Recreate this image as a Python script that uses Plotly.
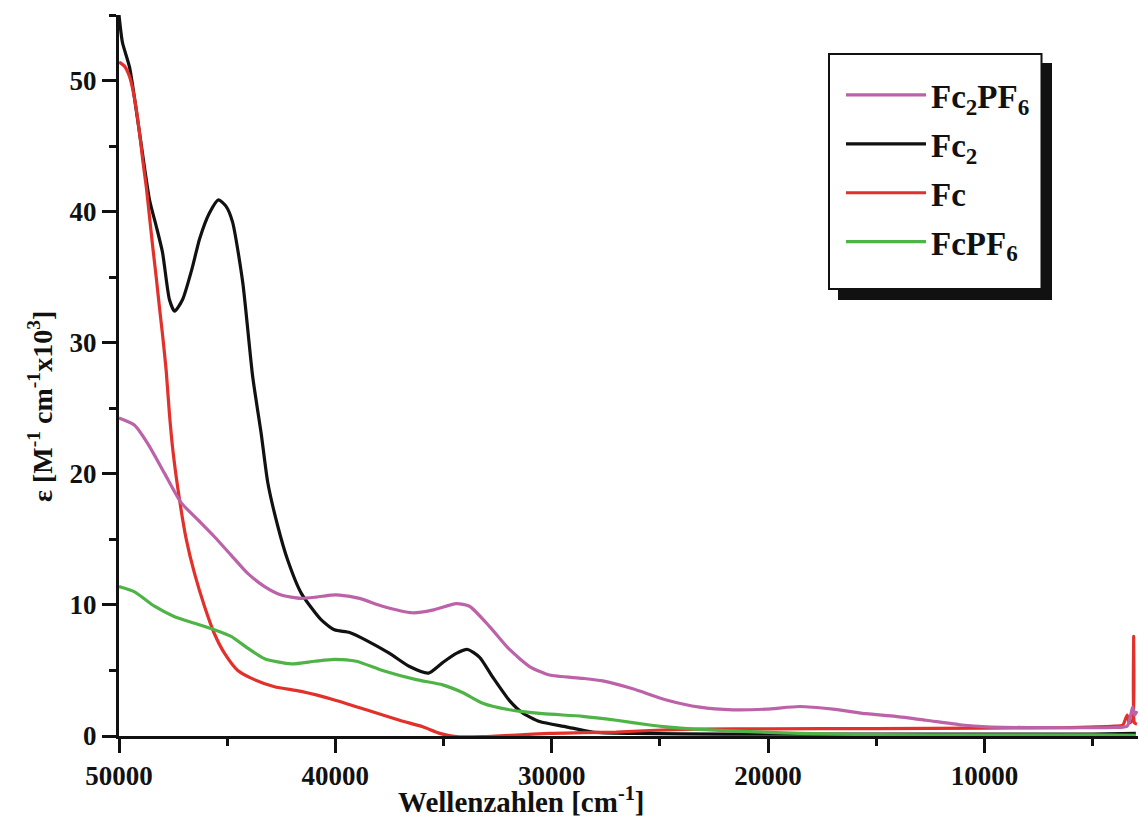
import plotly.graph_objects as go

# ---------------- data ----------------
fc2_x = [50000, 49840, 49510, 49050, 48590, 48280, 47990, 47670, 47430, 47060, 46600, 46280,
         45820, 45400, 45050, 44750, 44280, 43820, 43430, 43120, 42660, 42200, 41580, 40650,
         40040, 39340, 38570, 37490, 36570, 35690, 35040, 34410, 33890, 33330, 32730, 31950,
         31340, 30560, 29330, 28110, 26250, 22000, 15000, 10000, 5000, 3000]
fc2_y = [55.0, 52.9, 51.0, 46.0, 40.9, 38.9, 36.9, 33.3, 32.4, 33.3, 35.8, 37.9,
         39.9, 40.9, 40.4, 39.2, 34.6, 27.4, 23.1, 19.3, 16.0, 13.4, 10.9, 8.85,
         8.1, 7.9, 7.3, 6.3, 5.3, 4.8, 5.6, 6.3, 6.6, 6.0, 4.5, 2.7,
         1.75, 1.1, 0.7, 0.3, 0.2, 0.15, 0.15, 0.15, 0.15, 0.2]

fc_x = [50000, 49750, 49510, 49360, 49200, 49050, 48900, 48740, 48590, 48440, 48280, 48130,
        47980, 47820, 47670, 47510, 47200, 46890, 46510, 46050, 45590, 45120, 44510, 43740,
        42810, 41580, 40040, 38570, 37030, 35960, 35180, 34410, 33200, 31640, 30100, 28570,
        27010, 25470, 23160, 20000, 15000, 10000, 6500, 4000, 3600, 3400, 3300, 3150,
        3100, 3060, 2950]
fc_y = [51.4, 51.1, 50.3, 49.3, 47.8, 46.0, 43.9, 41.9, 39.6, 37.3, 35.0, 32.7,
        30.5, 27.9, 24.6, 21.8, 18.0, 15.0, 12.4, 9.9, 7.8, 6.3, 5.0, 4.3,
        3.76, 3.4, 2.75, 2.0, 1.2, 0.7, 0.2, -0.05, -0.05, 0.07, 0.2, 0.25,
        0.3, 0.42, 0.53, 0.55, 0.57, 0.6, 0.63, 0.75, 0.84, 1.6, 1.0, 1.2,
        7.6, 1.0, 0.9]

fc2pf6_x = [50000, 49280, 48670, 47900, 47130, 46360, 45590, 44820, 44050, 43270, 42500,
            41580, 40880, 40190, 39800, 38880, 37820, 36430, 35510, 34410, 33800, 32870,
            31950, 31020, 30100, 28570, 27640, 26250, 24700, 23160, 21620, 20080, 18540,
            17000, 15460, 14100, 12680, 11040, 9900, 8000, 6500, 4000, 3400, 3250, 3150,
            3050, 2950]
fc2pf6_y = [24.25, 23.7, 22.3, 20.05, 17.8, 16.5, 15.2, 13.8, 12.4, 11.4, 10.75,
            10.5, 10.6, 10.75, 10.75, 10.5, 9.9, 9.4, 9.6, 10.1, 9.9, 8.35,
            6.6, 5.3, 4.65, 4.4, 4.2, 3.6, 2.75, 2.2, 2.0, 2.05, 2.25,
            2.05, 1.7, 1.5, 1.2, 0.84, 0.7, 0.64, 0.63, 0.65, 0.75, 1.5, 2.2,
            1.6, 1.9]

fcpf6_x = [50000, 49280, 48360, 47430, 46510, 45590, 44820, 44050, 43270, 42040, 40960,
           40040, 39030, 37820, 36260, 35040, 34100, 33190, 31950, 30420, 28570, 27010,
           25470, 24700, 23160, 20850, 18500, 15000, 10000, 5000, 3000]
fcpf6_y = [11.4, 11.0, 9.9, 9.1, 8.6, 8.1, 7.6, 6.7, 5.9, 5.5, 5.7,
           5.85, 5.7, 5.0, 4.3, 3.9, 3.3, 2.5, 2.0, 1.7, 1.5, 1.2,
           0.84, 0.7, 0.5, 0.33, 0.2, 0.1, 0.08, 0.08, 0.05]

x_ticks = [50000, 40000, 30000, 20000, 10000]
x_ticktext = ["50000", "40000", "30000", "20000", "10000"]
y_ticks = [0, 10, 20, 30, 40, 50]
y_ticktext = ["0", "10", "20", "30", "40", "50"]

# ---------------- layout geometry (page pixels) ----------------
W, H = 1139, 819
PL, PT, PR, PB = 119, 15, 1138, 736
ML, MT, MR, MB = PL, PT, W - PR, H - PB
PW, PH = PR - PL, PB - PT

def px_x(px):
    return (px - PL) / PW

def px_y(py):
    return (PB - py) / PH

FONT = "Liberation Serif"

fig = go.Figure()

series = [
    ("Fc<sub>2</sub>", fc2_x, fc2_y, "#111111", 2),
    ("Fc", fc_x, fc_y, "#E2312A", 3),
    ("Fc<sub>2</sub>PF<sub>6</sub>", fc2pf6_x, fc2pf6_y, "#BB62A8", 1),
    ("FcPF<sub>6</sub>", fcpf6_x, fcpf6_y, "#4FB446", 4),
]
for name, xs, ys, col, rank in series:
    fig.add_trace(go.Scatter(
        x=xs, y=ys, mode="lines", name=name, legendrank=rank, legendgroup=name,
        line=dict(color=col, width=3.2, shape="spline", smoothing=0.6),
    ))

fig.update_layout(
    width=W, height=H,
    margin=dict(l=ML, r=MR, t=MT, b=MB, autoexpand=False),
    paper_bgcolor="white", plot_bgcolor="white",
    font=dict(family=FONT, color="#111111"),
    showlegend=True,
    legend=dict(
        x=px_x(841), y=px_y(67), xanchor="left", yanchor="top",
        bgcolor="rgba(0,0,0,0)", borderwidth=0,
        font=dict(family=FONT, size=33, weight="bold", color="#111111"),
        itemwidth=80, tracegroupgap=3, traceorder="grouped",
    ),
    xaxis=dict(
        range=[50000, 2900], tickvals=x_ticks, ticktext=x_ticktext, ticks="outside",
        ticklen=14, tickwidth=3,
        tickcolor="#111111", showline=True, linewidth=3, linecolor="#111111",
        showgrid=False, zeroline=False,
        tickfont=dict(family=FONT, size=27, weight="bold", color="#111111"),
        minor=dict(dtick=5000, tick0=0, ticks="outside", ticklen=7, tickwidth=2.5,
                   tickcolor="#111111", showgrid=False),
    ),
    yaxis=dict(
        range=[0, 55], tickvals=y_ticks, ticktext=y_ticktext, ticks="outside",
        ticklen=14, tickwidth=3,
        tickcolor="#111111", showline=True, linewidth=3, linecolor="#111111",
        showgrid=False, zeroline=False,
        tickfont=dict(family=FONT, size=27, weight="bold", color="#111111"),
        minor=dict(dtick=5, tick0=0, ticks="outside", ticklen=7, tickwidth=2.5,
                   tickcolor="#111111", showgrid=False),
    ),
    shapes=[
        dict(type="rect", xref="paper", yref="paper", layer="above",
             x0=px_x(838), x1=px_x(1052), y0=px_y(300), y1=px_y(63),
             fillcolor="#111111", line=dict(width=0)),
        dict(type="rect", xref="paper", yref="paper", layer="above",
             x0=px_x(829), x1=px_x(1041.5), y0=px_y(289), y1=px_y(54),
             fillcolor="white", line=dict(color="#111111", width=2)),
    ],
    annotations=[
        dict(text="Wellenzahlen [cm<sup>-1</sup>]", xref="paper", yref="paper",
             x=px_x(521), y=px_y(800), xanchor="center", yanchor="middle", showarrow=False,
             font=dict(family=FONT, size=29, weight="bold", color="#111111")),
        dict(text="ε [M<sup>-1</sup> cm<sup>-1</sup>x10<sup>3</sup>]", xref="paper", yref="paper",
             x=px_x(40), y=px_y(407), xanchor="center", yanchor="middle", showarrow=False,
             textangle=-90,
             font=dict(family=FONT, size=28, weight="bold", color="#111111")),
    ],
)

fig.write_html(
    "out.html",
    config={"displayModeBar": False},
    post_script="document.body.style.margin='0';document.body.style.overflow='hidden';",
)
